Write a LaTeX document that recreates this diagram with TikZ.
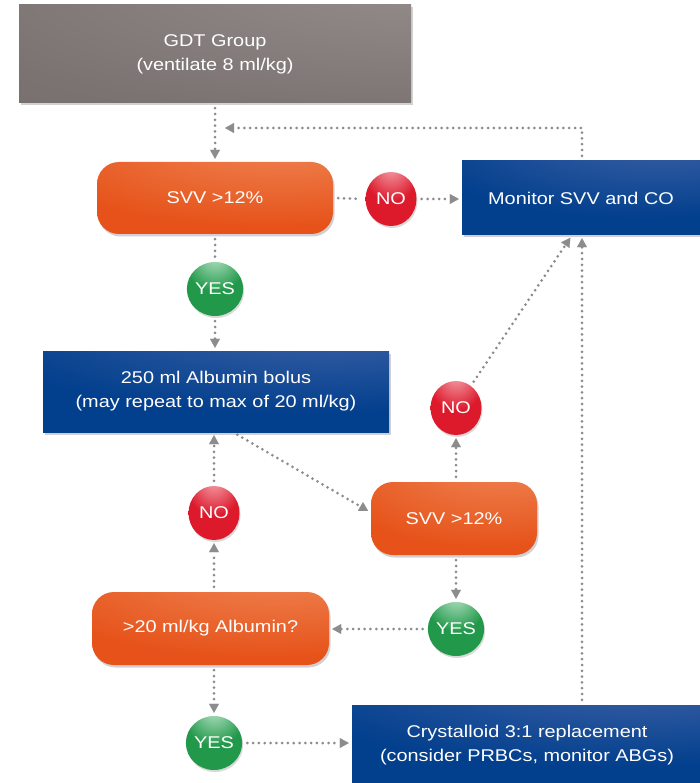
\documentclass[tikz,border=0pt]{standalone}
\usepackage{fontspec}
\setmainfont{Liberation Sans}[FakeStretch=1.17]
\usetikzlibrary{arrows.meta,shapes.geometric,shadows}
\definecolor{boxgrayD}{HTML}{6C6665}
\definecolor{boxgrayB}{HTML}{7A7372}
\definecolor{boxgrayL}{HTML}{9A9391}
\definecolor{orangeB}{HTML}{E65219}
\definecolor{orangeL}{HTML}{F29466}
\definecolor{blueB}{HTML}{023F8D}
\definecolor{blueL}{HTML}{5A72B2}
\definecolor{redB}{HTML}{DC1A2C}
\definecolor{redL}{HTML}{F5A6AE}
\definecolor{redD}{HTML}{B5101F}
\definecolor{greenB}{HTML}{22994A}
\definecolor{greenL}{HTML}{B6E3C6}
\definecolor{greenD}{HTML}{107033}
\definecolor{arrgray}{HTML}{8C8C8C}
\pgfdeclareradialshading{redball}{\pgfpoint{0bp}{32bp}}{color(0bp)=(redL); color(12bp)=(redL!55!redB); color(26bp)=(redB); color(50bp)=(redB); color(68bp)=(redD); color(100bp)=(redD)}
\pgfdeclareradialshading{greenball}{\pgfpoint{0bp}{32bp}}{color(0bp)=(greenL); color(12bp)=(greenL!55!greenB); color(26bp)=(greenB); color(50bp)=(greenB); color(68bp)=(greenD); color(100bp)=(greenD)}
\pgfdeclareradialshading{orangeglow}{\pgfpoint{18bp}{50bp}}{color(0bp)=(orangeL); color(20bp)=(orangeL!55!orangeB); color(52bp)=(orangeB); color(140bp)=(orangeB)}
\pgfdeclareradialshading{blueglow}{\pgfpoint{20bp}{52bp}}{color(0bp)=(blueL); color(18bp)=(blueL!50!blueB); color(48bp)=(blueB); color(140bp)=(blueB)}
\pgfdeclareradialshading{grayglow}{\pgfpoint{40bp}{50bp}}{color(0bp)=(boxgrayL); color(60bp)=(boxgrayB); color(110bp)=(boxgrayD); color(140bp)=(boxgrayD)}
\tikzset{
  txt/.style={text=white, align=center, inner sep=0pt, font=\fontsize{17}{24}\selectfont},
  shad/.style={drop shadow={shadow xshift=1.5pt, shadow yshift=-2.5pt, opacity=0.18, fill=black}},
  graybox/.style={txt, shad, rectangle, shading=grayglow},
  orangebox/.style={txt, shad, rectangle, rounded corners=22pt, shading=orangeglow},
  bluebox/.style={txt, shad, rectangle, shading=blueglow},
  nocirc/.style={txt, ellipse, minimum width=51pt, minimum height=54pt, shading=redball,
    drop shadow={shadow xshift=1pt, shadow yshift=-2pt, opacity=0.15, fill=black}},
  yescirc/.style={txt, ellipse, minimum width=51pt, minimum height=54pt, shading=greenball,
    drop shadow={shadow xshift=1pt, shadow yshift=-2pt, opacity=0.15, fill=black}},
  dots/.style={draw=arrgray, line width=3pt, line cap=round, dash pattern=on 0pt off 5.8pt,
    shorten <=5pt, shorten >=5pt},
  arr/.style={dots, shorten >=3pt, -{Triangle[width=10pt,length=9pt,line width=0.1pt]}}
}
\begin{document}
\begin{tikzpicture}[x=1pt,y=-1pt]
\useasboundingbox (0,0) rectangle (700,783);
% nodes
\node[graybox, minimum width=392pt, minimum height=98pt] (gdt) at (215,54) {GDT Group\\(ventilate 8 ml/kg)};
\node[orangebox, minimum width=236pt, minimum height=72pt] (svv1) at (215,198) {SVV >12\%};
\node[nocirc] (no1) at (391,199) {NO};
\node[bluebox, minimum width=240pt, minimum height=74pt] (mon) at (582,198) {\hspace*{-2pt}Monitor SVV and CO};
\node[yescirc] (yes1) at (215,289) {YES};
\node[bluebox, minimum width=346pt, minimum height=81pt] (alb) at (216,391.5) {250 ml Albumin bolus\\(may repeat to max of 20 ml/kg)};
\node[nocirc] (no2) at (456,408) {NO};
\node[orangebox, minimum width=166pt, minimum height=73pt] (svv2) at (454,518.5) {SVV >12\%};
\node[nocirc] (no3) at (214,513) {NO};
\node[yescirc] (yes2) at (456,629) {YES};
\node[orangebox, minimum width=237pt, minimum height=73pt] (gt) at (210.5,628.5) {>20 ml/kg Albumin?};
\node[yescirc] (yes3) at (214,743) {YES};
\node[bluebox, minimum width=350pt, minimum height=80pt] (cry) at (527,745) {Crystalloid 3:1 replacement\\(consider PRBCs, monitor ABGs)};
\coordinate (loopend) at (222,128);
% connectors
\draw[arr] (gdt.south) -- (svv1.north);
\draw[arr] (mon.north) |- (loopend);
\draw[dots] (svv1.east) -- (no1.west);
\draw[arr] (no1.east) -- (no1.east -| mon.west);
\draw[dots] (svv1.south) -- (yes1.north);
\draw[arr] (yes1.south) -- (yes1 |- alb.north);
\draw[arr] ([xshift=17pt]alb.south) -- ([yshift=6pt]svv2.west);
\draw[arr] (no2 |- svv2.north) -- (no2.south);
\draw[arr] (no2) -- ([xshift=-10pt]mon.south);
\draw[arr] (mon.south |- cry.north) -- (mon.south);
\draw[arr] (yes2 |- svv2.south) -- (yes2.north);
\draw[arr] (yes2.west) -- (yes2.west -| gt.east);
\draw[arr] (no3 |- gt.north) -- (no3.south);
\draw[arr] (no3.north) -- (no3 |- alb.south);
\draw[arr] (yes3 |- gt.south) -- (yes3.north);
\draw[arr] (yes3.east) -- (yes3.east -| cry.west);
\end{tikzpicture}
\end{document}
